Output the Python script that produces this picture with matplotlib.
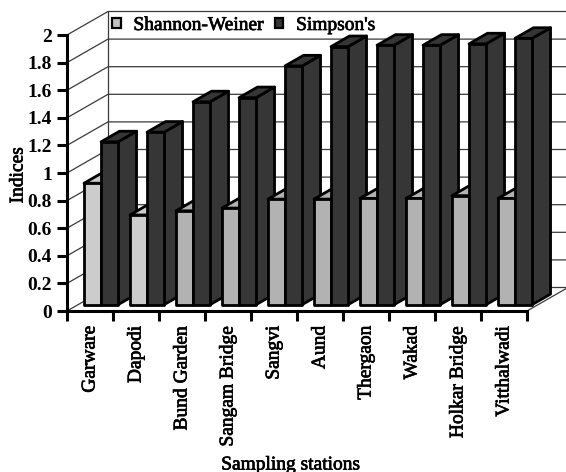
import matplotlib
matplotlib.use("Agg")
import matplotlib.pyplot as plt
import matplotlib.patheffects as pe
from matplotlib.patches import Polygon, Patch

plt.rcParams['font.family'] = ['Liberation Serif', 'DejaVu Serif']

stations = ["Garware", "Dapodi", "Bund Garden", "Sangam Bridge", "Sangvi", "Aund",
            "Thergaon", "Wakad", "Holkar Bridge", "Vitthalwadi"]
shannon = [0.88, 0.65, 0.68, 0.70, 0.765, 0.765, 0.77, 0.77, 0.79, 0.77]
simpson = [1.18, 1.25, 1.47, 1.50, 1.73, 1.87, 1.88, 1.88, 1.89, 1.93]
shannon_colors = ['#cccccc', '#cccccc'] + ['#b2b2b2'] * 8
simpson_color = '#363636'
y_ticks = [0, 0.2, 0.4, 0.6, 0.8, 1, 1.2, 1.4, 1.6, 1.8, 2]
y_labels = ['0', '0.2', '0.4', '0.6', '0.8', '1', '1.2', '1.4', '1.6', '1.8', '2']

W, H = 566, 472
fig = plt.figure(figsize=(W / 100, H / 100), dpi=100, facecolor='white')
L, R, B, T = 67, 527, 311, 35
ax = fig.add_axes([L / W, 1 - B / H, (R - L) / W, (B - T) / H])
ax.set_xlim(0, 10)
ax.set_ylim(0, 2)
ax.patch.set_visible(False)

DX, DY = 41 / 46, 23.5 / 138   # full depth of the plot box in data units
F0, FD = 0.27, 0.45            # bar start and thickness as depth fractions
BW = 0.37                      # bar width
GAP = 0.13

# walls and grid
grid = dict(color='#3a3a3a', lw=0.9, clip_on=False, zorder=1)
for v in y_ticks:
    ax.plot([0, DX, 10 + DX], [v, v + DY, v + DY], **grid)
ax.plot([DX, DX], [DY, 2 + DY], **grid)
ax.plot([10, 10 + DX], [0, DY], **grid)


def box(x, v, color, edge='black', lw=2.0, z=3):
    x0 = x + F0 * DX
    y0 = F0 * DY
    ox, oy = FD * DX, FD * DY
    kw = dict(edgecolor=edge, linewidth=lw, clip_on=False, zorder=z, joinstyle='round')
    ax.add_patch(Polygon([(x0 + BW, y0), (x0 + BW + ox, y0 + oy),
                          (x0 + BW + ox, y0 + oy + v), (x0 + BW, y0 + v)],
                         facecolor=color, **kw))
    ax.add_patch(Polygon([(x0, y0 + v), (x0 + ox, y0 + oy + v),
                          (x0 + BW + ox, y0 + oy + v), (x0 + BW, y0 + v)],
                         facecolor=color, **kw))
    ax.add_patch(Polygon([(x0, y0), (x0 + BW, y0), (x0 + BW, y0 + v), (x0, y0 + v)],
                         facecolor=color, **kw))


for i in range(len(stations)):
    box(i + GAP, shannon[i], shannon_colors[i])
    box(i + GAP + BW, simpson[i], simpson_color)

# axes
for s in ('top', 'right'):
    ax.spines[s].set_visible(False)
for s in ('left', 'bottom'):
    ax.spines[s].set_linewidth(2.2)
    ax.spines[s].set_zorder(6)
ax.set_yticks(y_ticks)
ax.set_yticklabels(y_labels, fontsize=14, fontweight='bold')
ax.tick_params(axis='y', length=7, width=2.2, pad=4)
ax.set_xticks(range(11))
ax.set_xticklabels([])
ax.tick_params(axis='x', which='major', length=7, width=2.2)
ax.set_xticks([i + 0.5 for i in range(10)], minor=True)
ax.set_xticklabels(stations, minor=True, rotation=90, fontsize=14, va='top', ha='center')
ax.tick_params(axis='x', which='minor', length=0, pad=10.5)

heavy = [pe.withStroke(linewidth=0.5, foreground='black')]
t1 = fig.text(18 / W, 1 - 175 / H, "Indices", rotation=90, fontsize=14, ha='center', va='center')
t2 = fig.text(291 / W, 1 - 465 / H, "Sampling stations", fontsize=14, ha='center', va='center')

leg = fig.legend(handles=[Patch(facecolor='#c0c0c0', edgecolor='black', linewidth=1.6, label="Shannon-Weiner"),
                          Patch(facecolor=simpson_color, edgecolor='black', linewidth=1.6, label="Simpson's")],
                 ncol=2, frameon=False, fontsize=14, loc='center left',
                 bbox_to_anchor=(112 / W, 1 - 25.5 / H), handlelength=0.45, handleheight=0.45,
                 handletextpad=0.65, columnspacing=0.55, borderpad=0, borderaxespad=0)

for t in [t1, t2] + ax.get_xticklabels(minor=True) + leg.get_texts():
    t.set_path_effects(heavy)

fig.savefig("out.png", dpi=100, facecolor='white')
